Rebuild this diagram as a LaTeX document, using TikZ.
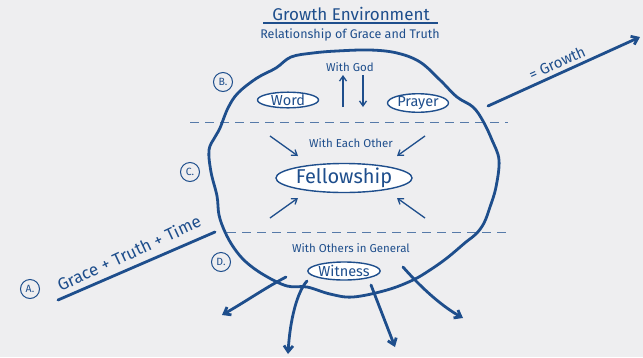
\documentclass[tikz,border=0pt]{standalone}
\usepackage{fontspec}
\setmainfont{Fira Sans}
\usetikzlibrary{arrows.meta,shapes.geometric}
\definecolor{ink}{RGB}{30,78,140}
\definecolor{bg}{RGB}{238,238,240}
\begin{document}
\begin{tikzpicture}[x=1pt,y=-1pt,
 txt/.style={text=ink,inner sep=0pt},
 oval/.style={ellipse,draw=ink,line width=1.4pt,fill=white,text=ink,inner sep=0pt},
 tag/.style={circle,draw=ink,line width=1pt,minimum size=19pt,inner sep=0pt,text=ink,font=\fontsize{10.5}{10.5}\selectfont},
 thinarrow/.style={ink,line width=1.3pt,-{Straight Barb[length=5pt,width=7pt]}},
 thickarrow/.style={ink,line width=2.8pt,line cap=round,-{Straight Barb[length=6pt,width=9pt]}},
 divider/.style={ink!75,line width=1pt,dash pattern=on 9pt off 6pt}]
\fill[bg] (0,0) rectangle (643,357);
\useasboundingbox (0,0) rectangle (643,357);

% title
\node[txt,font=\fontsize{17}{17}\selectfont] (title) at (351,14) {Growth Environment};
\coordinate (ulA) at (263,23);
\coordinate (ulB) at (438,23);
\draw[ink,line width=1.2pt] (ulA) -- (ulB);
\node[txt,font=\fontsize{12.5}{12.5}\selectfont] (sub) at (350,35) {Relationship of Grace and Truth};

% dividers
\coordinate (d1a) at (190,122); \coordinate (d1b) at (508,122);
\coordinate (d2a) at (227,232); \coordinate (d2b) at (508,232);
\draw[divider] (d1a) -- (d1b);
\draw[divider] (d2a) -- (d2b);

% blob
\draw[ink,line width=2.8pt] plot[smooth cycle,tension=0.6] coordinates {
(220,128) (228,108) (238,93) (257,78) (276,68) (291,57) (313,53) (337,51) (370,50) (397,53)
(420,62) (440,80) (457,97) (473,107) (483,121) (492,140) (499,160) (496,187) (490,207)
(484,223) (476,234) (466,242) (447,258) (430,270) (413,280) (387,290) (353,297) (330,294)
(307,287) (287,286) (264,275) (246,262) (234,248) (225,232) (219,215) (217,196) (211,172)
(209,150) (215,137)};

% tags
\node[tag] (tB) at (223,82) {B.};
\node[tag] (tC) at (190,172) {C.};
\node[tag] (tD) at (221,262) {D.};
\node[tag] (tA) at (30,289) {A.};

% section B
\node[txt,font=\fontsize{11.5}{11.5}\selectfont] (god) at (350,67) {With God};
\node[oval,minimum width=61pt,minimum height=15pt,font=\fontsize{14.5}{14.5}\selectfont] (word) at (288,100) {Word};
\node[oval,minimum width=61pt,minimum height=16pt,font=\fontsize{14.5}{14.5}\selectfont] (prayer) at (418,103) {Prayer};
\coordinate (u1) at (343,107); \coordinate (u2) at (343,75);
\coordinate (v1) at (363,75); \coordinate (v2) at (363,107);
\draw[thinarrow] (u1) -- (u2);
\draw[thinarrow] (v1) -- (v2);

% section C
\node[txt,font=\fontsize{11.5}{11.5}\selectfont] (each) at (351,143) {With Each Other};
\node[oval,minimum width=122pt,minimum height=29pt,font=\fontsize{20}{20}\selectfont] (fellow) at (344,178) {Fellowship};
\coordinate (a1) at (270,136); \coordinate (a1e) at (298,156);
\coordinate (a2) at (425,136); \coordinate (a2e) at (397,156);
\coordinate (a3) at (270,218); \coordinate (a3e) at (298,198);
\coordinate (a4) at (425,218); \coordinate (a4e) at (397,198);
\draw[thinarrow] (a1) -- (a1e);
\draw[thinarrow] (a2) -- (a2e);
\draw[thinarrow] (a3) -- (a3e);
\draw[thinarrow] (a4) -- (a4e);

% section D
\node[txt,font=\fontsize{11.5}{11.5}\selectfont] (others) at (351,248) {With Others in General};
\node[oval,minimum width=64pt,minimum height=18pt,font=\fontsize{14.5}{14.5}\selectfont] (witness) at (344,271) {Witness};
\coordinate (b1) at (286,277); \coordinate (b1e) at (222,315);
\coordinate (b2) at (307,281); \coordinate (b2e) at (288,354);
\coordinate (b3) at (371,285); \coordinate (b3e) at (395,347);
\coordinate (b4) at (403,267); \coordinate (b4e) at (463,318);
\draw[thickarrow] (b1) .. controls (265,288) and (245,302) .. (b1e);
\draw[thickarrow] (b2) .. controls (297,292) and (290,320) .. (b2e);
\draw[thickarrow] (b3) -- (b3e);
\draw[thickarrow] (b4) .. controls (425,292) and (445,308) .. (b4e);

% input arrow
\coordinate (g1) at (58,300); \coordinate (g2) at (215,232);
\draw[ink,line width=2.8pt,line cap=round] (g1) -- (g2);
\node[txt,font=\fontsize{17}{17}\selectfont,rotate=25] (grace) at (129,253) {Grace + Truth + Time};

% output arrow
\coordinate (o1) at (488,106); \coordinate (o2) at (640,37);
\draw[thickarrow] (o1) -- (o2);
\node[txt,font=\fontsize{15}{15}\selectfont,rotate=24] (growth) at (557,63) {= Growth};
\end{tikzpicture}
\end{document}
